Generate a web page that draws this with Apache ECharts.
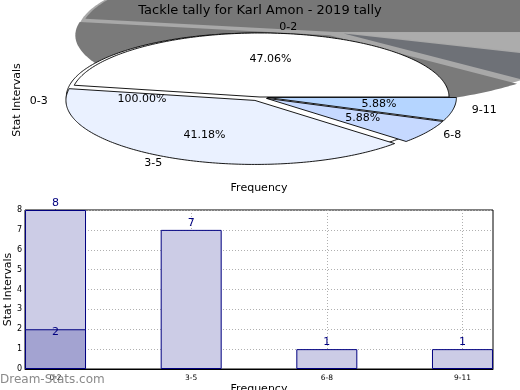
<!DOCTYPE html>
<html><head><meta charset="utf-8">
<script src="https://cdn.jsdelivr.net/npm/echarts@6/dist/echarts.min.js"></script>
<style>html,body{margin:0;padding:0;background:#fff}#c{width:520px;height:390px}</style>
</head><body><div id="c"></div>
<script>
// ---- data ----
const titleText = 'Tackle tally for Karl Amon - 2019 tally';
const pieCategories = ['0-2', '0-3', '3-5', '6-8', '9-11'];
const pieValues = [8, 0, 7, 1, 1];
const barCategories = ['0-2', '3-5', '6-8', '9-11'];
const barValues = [8, 7, 1, 1];
const overlayValues = [2];
const yTickMax = 8;

// ---- styles / layout ----
const FONT = 'DejaVu Sans';
const PIE = { cx: 260, cy: 97, rx: 189, ry: 64 };
const SH = { cx: 335, cy: 32, rx: 254, ry: 72 };
const explode = [0, 0.025, 0.06, 0.04, 0.04];
const shadowExplode = [0, 0.012, 0.05, 0.04, 0.04];
const fullLabelAngle = 183;
const sliceColors = ['#ffffff', '#ffffff', '#eaf1ff', '#c6d9ff', '#b5d5ff'];
const shadowColors = ['#777777', '#a8a8a8', '#7a7a7a', '#6e7177', '#acacac'];

const total = pieValues.reduce((a, b) => a + b, 0);
const starts = []; let acc = 0;
pieValues.forEach(v => { starts.push(acc); acc += v; });

function arcPoints(cx, cy, rx, ry, a1, a2, withCenter) {
  const pts = [];
  if (withCenter) pts.push([cx, cy]);
  const n = Math.max(2, Math.ceil(Math.abs(a2 - a1)));
  for (let k = 0; k <= n; k++) {
    const a = (a1 + (a2 - a1) * k / n) * Math.PI / 180;
    pts.push([cx + rx * Math.cos(a), cy - ry * Math.sin(a)]);
  }
  return pts;
}

function renderSlice(params, api) {
  const i = params.dataIndex;
  const v = pieValues[i];
  const full = v === 0;
  const a1 = 360 * starts[i] / total;
  const a2 = full ? a1 + 360 : a1 + 360 * v / total;
  const mid = full ? fullLabelAngle : (a1 + a2) / 2;
  const mr = mid * Math.PI / 180;
  const ux = Math.cos(mr), uy = -Math.sin(mr);
  const e = explode[i], se = shadowExplode[i];
  const children = [];
  const sx = SH.cx + se * SH.rx * ux, sy = SH.cy + se * SH.ry * uy;
  children.push({ type: 'polygon', z2: full ? 1 : 2, silent: true,
    shape: { points: arcPoints(sx, sy, SH.rx, SH.ry, a1, a2, !full) },
    style: { fill: shadowColors[i] } });
  const px = PIE.cx + e * PIE.rx * ux, py = PIE.cy + e * PIE.ry * uy;
  children.push({ type: 'polygon', z2: full ? 5 : 10,
    shape: { points: arcPoints(px, py, PIE.rx, PIE.ry, a1, a2, !full) },
    style: { fill: sliceColors[i], stroke: '#000', lineWidth: 0.9 } });
  const pct = full ? '100.00%' : (100 * v / total).toFixed(2) + '%';
  children.push({ type: 'text', z2: 20, style: { text: pct,
    x: px + 0.6 * PIE.rx * ux, y: py + 0.6 * PIE.ry * uy,
    align: 'center', verticalAlign: 'middle', fontSize: 11, fontFamily: FONT, fill: '#000' } });
  children.push({ type: 'text', z2: 20, style: { text: pieCategories[i],
    x: px + 1.1 * PIE.rx * ux, y: py + 1.1 * PIE.ry * uy,
    align: ux > 0 ? 'left' : 'right', verticalAlign: 'middle', fontSize: 11, fontFamily: FONT, fill: '#000' } });
  return { type: 'group', children };
}

const chart = echarts.init(document.getElementById('c'));
const tickIdx = barCategories.map((c, i) => i);
chart.setOption({
  animation: false,
  backgroundColor: '#fff',
  title: { text: titleText, left: 'center', top: -1,
    textStyle: { fontFamily: FONT, fontSize: 13, fontWeight: 'normal', color: '#000' } },
  grid: { left: 25, right: 27, top: 210, bottom: 21, containLabel: false, outerBoundsMode: 'none',
    show: true, borderColor: '#000', borderWidth: 1, backgroundColor: 'transparent' },
  xAxis: {
    type: 'value', min: -0.225, max: 3.225,
    name: 'Frequency', nameLocation: 'middle', nameGap: 15, nameMoveOverlap: false,
    nameTextStyle: { fontFamily: FONT, fontSize: 11, color: '#000' },
    axisLine: { show: true, lineStyle: { color: '#000' } },
    axisTick: { show: true, inside: true, length: 3, customValues: tickIdx, lineStyle: { color: '#000' } },
    axisLabel: { customValues: tickIdx, formatter: v => barCategories[Math.round(v)] || '',
      fontFamily: FONT, fontSize: 7.5, color: '#000', margin: 5 },
    splitLine: { show: true, lineStyle: { color: '#b0b0b0', type: [1, 2] } }
  },
  yAxis: {
    type: 'value', min: 0, max: yTickMax, interval: 1,
    name: 'Stat Intervals', nameLocation: 'middle', nameGap: 11, nameRotate: 90, nameMoveOverlap: false,
    nameTextStyle: { fontFamily: FONT, fontSize: 11, color: '#000' },
    axisLine: { show: true, lineStyle: { color: '#000' } },
    axisTick: { show: true, inside: true, length: 3, lineStyle: { color: '#000' } },
    axisLabel: { fontFamily: FONT, fontSize: 8, color: '#000', margin: 3 },
    splitLine: { show: true, lineStyle: { color: '#b0b0b0', type: [1, 2] } }
  },
  graphic: [
    { type: 'text', left: 0, top: 374, z: 100, style: { text: 'Dream-Stats.com', fontFamily: FONT, fontSize: 12, fill: '#8a8a8a' } },
    { type: 'text', x: 17, y: 100, rotation: Math.PI / 2, z: 100,
      style: { text: 'Stat Intervals', fontFamily: FONT, fontSize: 11, fill: '#000', align: 'center', verticalAlign: 'middle' } },
    { type: 'text', x: 259, y: 188, z: 100,
      style: { text: 'Frequency', fontFamily: FONT, fontSize: 11, fill: '#000', align: 'center', verticalAlign: 'middle' } }
  ],
  series: [
    { type: 'custom', coordinateSystem: 'none', renderItem: renderSlice,
      data: pieValues.map((v, i) => [i, v]), silent: true, z: 1 },
    { type: 'bar', data: barValues.map((v, i) => [i, v]), barWidth: 61, barGap: '-100%',
      itemStyle: { color: '#cccce6', borderColor: '#000080', borderWidth: 1 },
      label: { show: true, position: 'top', distance: 1, color: '#000080', fontSize: 11, fontFamily: FONT,
        formatter: p => p.value[1] }, z: 3 },
    { type: 'bar', data: overlayValues.map((v, i) => [i, v]), barWidth: 61, barGap: '-100%',
      itemStyle: { color: '#a3a3d1', borderColor: '#000080', borderWidth: 1 },
      label: { show: true, position: 'top', distance: -8, color: '#000080', fontSize: 11, fontFamily: FONT,
        formatter: p => p.value[1] }, z: 4 }
  ]
});
</script></body></html>
